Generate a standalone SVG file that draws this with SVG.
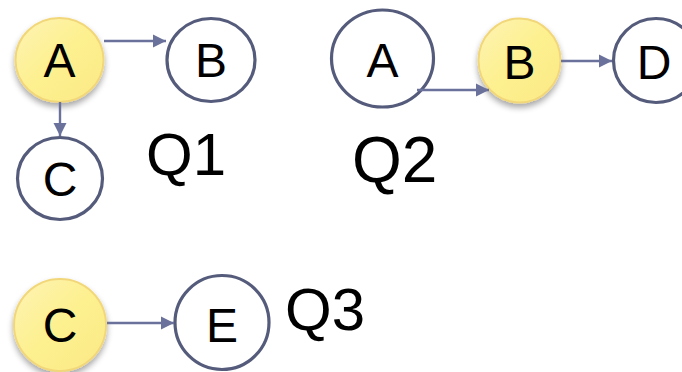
<svg xmlns="http://www.w3.org/2000/svg" width="682" height="372" viewBox="0 0 682 372">
  <defs>
    <linearGradient id="hl" x1="0" y1="0" x2="1" y2="1">
      <stop offset="0" stop-color="#fdf3b4"/>
      <stop offset="0.5" stop-color="#fdf08f"/>
      <stop offset="1" stop-color="#fbea86"/>
    </linearGradient>
    <filter id="shadow" x="-30%" y="-30%" width="160%" height="170%">
      <feGaussianBlur in="SourceAlpha" stdDeviation="3"/>
      <feOffset dy="4"/>
      <feComponentTransfer><feFuncA type="linear" slope="0.35"/></feComponentTransfer>
      <feMerge><feMergeNode/><feMergeNode in="SourceGraphic"/></feMerge>
    </filter>
    <marker id="arrow" viewBox="0 0 10 10" refX="10" refY="5" markerWidth="5.5" markerHeight="6" markerUnits="strokeWidth" orient="auto">
      <path d="M0,0 L10,5 L0,10 z" fill="#6a719a"/>
    </marker>
  </defs>
  <style>
    .hot { fill: url(#hl); stroke: #f2d77a; stroke-width: 2; filter: url(#shadow); }
    .plain { fill: #ffffff; stroke: #555b7b; stroke-width: 3.2; }
    .lbl { font-family: "Liberation Sans", Arial, sans-serif; font-size: 48px; fill: #000; text-anchor: middle; }
    .q { font-family: "Liberation Sans", Arial, sans-serif; font-size: 60px; fill: #000; }
    .edge { stroke: #6a719a; stroke-width: 2.4; fill: none; marker-end: url(#arrow); }
  </style>

  <!-- Q1 -->
  <g id="q1-a">
    <ellipse class="hot" cx="59.5" cy="60" rx="44" ry="42"/>
    <text class="lbl" x="59.5" y="77">A</text>
  </g>
  <g id="q1-b">
    <ellipse class="plain" cx="211" cy="60" rx="44" ry="41.5"/>
    <text class="lbl" x="211" y="77">B</text>
  </g>
  <g id="q1-c">
    <ellipse class="plain" cx="60" cy="178.5" rx="42.5" ry="41"/>
    <text class="lbl" x="60" y="196">C</text>
  </g>
  <text id="q1-label" class="q" x="146" y="175">Q1</text>

  <!-- Q2 -->
  <g id="q2-a">
    <ellipse class="plain" cx="382.5" cy="58.5" rx="51" ry="48.5"/>
    <text class="lbl" x="382.5" y="77">A</text>
  </g>
  <g id="q2-b">
    <ellipse class="hot" cx="519.5" cy="60.5" rx="41" ry="42"/>
    <text class="lbl" x="519.5" y="79">B</text>
  </g>
  <g id="q2-d">
    <ellipse class="plain" cx="656" cy="60.5" rx="42.5" ry="42"/>
    <text class="lbl" x="654" y="79">D</text>
  </g>
  <text id="q2-label" class="q" x="352" y="182" style="font-size:64px">Q2</text>

  <!-- Q3 -->
  <g id="q3-c">
    <ellipse class="hot" cx="60" cy="325" rx="46" ry="46"/>
    <text class="lbl" x="60" y="342">C</text>
  </g>
  <g id="q3-e">
    <ellipse class="plain" cx="222" cy="322.5" rx="47" ry="47"/>
    <text class="lbl" x="222" y="342">E</text>
  </g>
  <text id="q3-label" class="q" x="285" y="330">Q3</text>

  <!-- connectors -->
  <g id="connectors">
    <line class="edge" x1="104" y1="41" x2="166" y2="41"/>
    <line class="edge" x1="60" y1="102" x2="60" y2="136"/>
    <line class="edge" x1="417" y1="90" x2="489" y2="90"/>
    <line class="edge" x1="561" y1="61" x2="612" y2="61"/>
    <line class="edge" x1="107" y1="323" x2="174" y2="323"/>
  </g>
</svg>
